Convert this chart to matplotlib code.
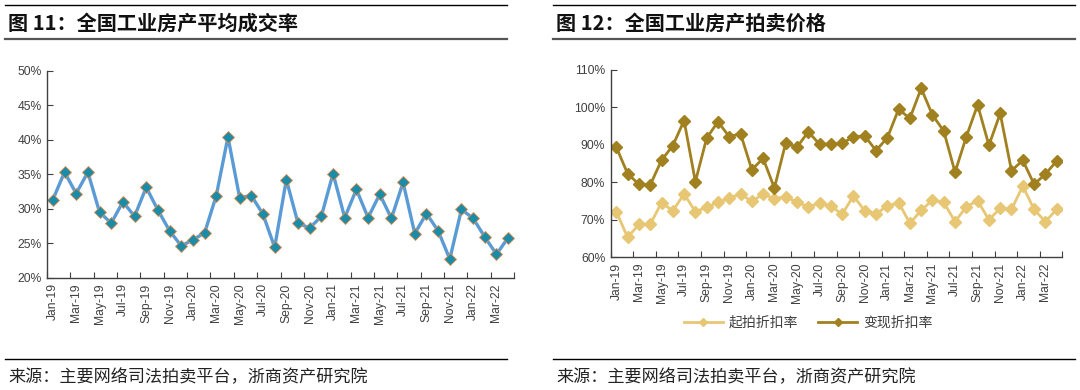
import matplotlib
matplotlib.use("Agg")
import matplotlib.pyplot as plt
from matplotlib.lines import Line2D
from matplotlib.ticker import FuncFormatter

plt.rcParams["font.family"] = ["Liberation Sans", "Noto Sans CJK SC"]

# months Jan-19 .. Apr-22
months = ["Jan", "Feb", "Mar", "Apr", "May", "Jun", "Jul", "Aug", "Sep", "Oct", "Nov", "Dec"]
dates = ["{}-{}".format(m, y) for y in ["19", "20", "21", "22"] for m in months][:40]

# Fig 11: average transaction rate (%)
deal_rate = [31.3, 35.3, 32.2, 35.3, 29.5, 27.9, 31.0, 28.9, 33.1, 29.8,
             26.8, 24.6, 25.5, 26.5, 31.9, 40.4, 31.6, 31.9, 29.2, 24.4,
             34.2, 27.9, 27.2, 28.9, 35.1, 28.7, 32.8, 28.7, 32.1, 28.6,
             33.8, 26.4, 29.3, 26.8, 22.7, 29.9, 28.6, 25.9, 23.4, 25.8]

# Fig 12: starting discount rate / realised discount rate (%)
start_disc = [72.2, 65.3, 68.8, 68.8, 74.6, 72.4, 76.9, 72.2, 73.3, 74.7,
              75.8, 76.9, 74.9, 76.9, 75.6, 76.2, 74.7, 73.5, 74.4, 73.7,
              71.5, 76.4, 72.4, 71.6, 73.7, 74.6, 69.1, 72.5, 75.3, 74.7,
              69.5, 73.5, 75.1, 70.0, 73.1, 72.8, 79.0, 72.8, 69.5, 72.8]
real_disc = [89.4, 82.3, 79.5, 79.3, 85.9, 89.8, 96.5, 80.2, 91.8, 96.2,
             92.2, 93.0, 83.4, 86.4, 78.5, 90.5, 89.4, 93.5, 90.2, 90.2,
             90.4, 92.2, 92.4, 88.5, 91.9, 99.5, 97.1, 105.1, 98.0, 93.7,
             82.7, 92.2, 100.7, 89.9, 98.4, 83.1, 85.9, 79.5, 82.2, 85.7]

W, H = 1080, 390
fig = plt.figure(figsize=(W / 100, H / 100), dpi=100)


def px_axes(x0, y0, x1, y1):
    return fig.add_axes([x0 / W, 1 - y1 / H, (x1 - x0) / W, (y1 - y0) / H])


def hline(x0, x1, y, lw, color):
    fig.add_artist(Line2D([x0 / W, x1 / W], [1 - y / H, 1 - y / H],
                          transform=fig.transFigure, lw=lw, color=color))


def style_axes(ax, ylo, yhi, step):
    n = len(dates)
    ax.set_xlim(-0.5, n - 0.5)
    ax.set_ylim(ylo, yhi)
    ax.set_yticks(range(ylo, yhi + 1, step))
    ax.yaxis.set_major_formatter(FuncFormatter(lambda v, p: "{:.0f}%".format(v)))
    ax.set_xticks([i - 0.5 for i in range(0, n + 1, 2)])
    ax.set_xticklabels([])
    ax.set_xticks(list(range(0, n, 2)), minor=True)
    ax.set_xticklabels(dates[::2], minor=True, rotation=90)
    ax.tick_params(axis="x", which="minor", length=0, labelsize=8.7, colors="#404040", pad=4)
    ax.tick_params(axis="x", which="major", direction="in", length=4, color="#404040")
    ax.tick_params(axis="y", direction="in", length=4, labelsize=8.7, colors="#404040", pad=4)
    for s in ["top", "right"]:
        ax.spines[s].set_visible(False)
    for s in ["left", "bottom"]:
        ax.spines[s].set_color("#404040")
        ax.spines[s].set_linewidth(1.0)


cjk = ["Noto Sans CJK SC", "DejaVu Sans"]

# ---- left panel ----
ax1 = px_axes(47, 70.7, 514, 277.7)
x = range(len(dates))
ax1.plot(x, deal_rate, color="#5B9BD5", lw=2.4, marker="D", ms=6.5,
         mfc="#1A8CA8", mec="#E08A4A", mew=0.6)
style_axes(ax1, 20, 50, 5)

# ---- right panel ----
ax2 = px_axes(610.7, 70, 1062.3, 257.3)
ax2.plot(x, start_disc, color="#E8C774", lw=2.0, marker="D", ms=6.5,
         mfc="#E8C774", mec="#E8C774", label="起拍折扣率")
ax2.plot(x, real_disc, color="#A0801F", lw=2.0, marker="D", ms=6.5,
         mfc="#A0801F", mec="#A0801F", label="变现折扣率")
style_axes(ax2, 60, 110, 10)
ax2.legend(loc="center", bbox_to_anchor=(808 / W, 1 - 323 / H), bbox_transform=fig.transFigure,
           ncol=2, frameon=False, prop={"family": cjk, "size": 10}, handlelength=2.8,
           markerscale=0.7, columnspacing=1.5, handletextpad=0.4, labelcolor="#404040")

# ---- titles and sources ----
for x0, x1, title in [(5, 507, "图 11：全国工业房产平均成交率"),
                      (553, 1075, "图 12：全国工业房产拍卖价格")]:
    hline(x0, x1, 5, 1.0, "#000000")
    hline(x0, x1, 39, 1.6, "#555555")
    fig.text((x0 + 3) / W, 1 - 23 / H, title, family=cjk, fontsize=14.5,
             fontweight="bold", style="italic", va="center", ha="left", color="#111111")
    hline(x0, x1, 359, 1.0, "#000000")
    fig.text((x0 + 3) / W, 1 - 377 / H, "来源：主要网络司法拍卖平台，浙商资产研究院",
             family=cjk, fontsize=12.3, va="center", ha="left", color="#222222")

fig.savefig("out.png", dpi=100, facecolor="white")
